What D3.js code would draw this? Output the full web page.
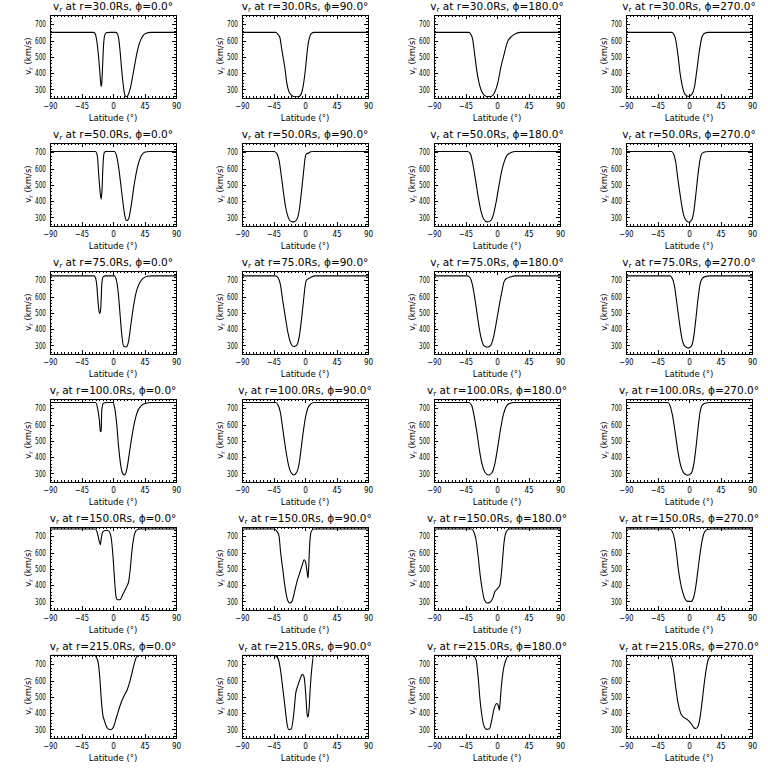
<!DOCTYPE html>
<html>
<head>
<meta charset="utf-8">
<script src="https://cdn.jsdelivr.net/npm/d3@7"></script>
<style>
  body { margin: 0; background: #fff; }
  svg { display: block; }
  text { font-family: "DejaVu Sans", sans-serif; fill: #000; }
  .axis line { stroke: #000; stroke-width: 1; shape-rendering: crispEdges; }
  .axis .domain { display: none; }
  .box { fill: none; stroke: #000; stroke-width: 1; shape-rendering: crispEdges; }
  .curve { fill: none; stroke: #000; stroke-width: 1.1; }
</style>
</head>
<body>
<div id="chart"></div>
<script>
// radial speed v_r (km/s) against latitude (deg), one array per panel
const radii = [30, 50, 75, 100, 150, 215];
const phis = [0, 90, 180, 270];
const latTicks = [-90, -45, 0, 45, 90];
const vTicks = [300, 400, 500, 600, 700];

const v30_0 = [[-90,650],[-28,650],[-26,645],[-24,620],[-22,560],[-20,470],[-18.5,390],[-17,318],[-16,340],[-15,430],[-13.5,570],[-12,630],[-10,648],[-5,650],[4,650],[6,643],[8,615],[10,540],[12,440],[14,350],[16,285],[18,258],[20,256],[22,270],[25,310],[28,378],[31,450],[34,520],[37,572],[40,607],[43,630],[47,645],[54,650],[90,650]];
const v30_90 = [[-90,650],[-42,650],[-39,640],[-36,620],[-33,541],[-29,439],[-26,340],[-23,286],[-19.5,265],[-15,255],[-9,255],[-5,276],[-2,337],[1,439],[3.3,541],[6.5,620],[9,642],[13,650],[90,650]];
const v30_180 = [[-90,650],[-40,650],[-37,635],[-35,612],[-32,520],[-29,418],[-25,327],[-20.5,276],[-15,256],[-8.5,256],[-4,276],[1,337],[5.7,439],[10.4,520],[15,592],[20,622],[27,643],[34,650],[90,650]];
const v30_270 = [[-90,650],[-25,650],[-22,640],[-19.8,620],[-16,520],[-12.7,398],[-9.3,316],[-5.5,269],[-0.7,256],[4,269],[7.9,316],[11.2,418],[15,541],[18.4,620],[21.8,643],[28,650],[90,650]];

const v50_0 = [[-90,705],[-25,705],[-23,690],[-22,665],[-20.5,568],[-18.6,466],[-17,412],[-15.7,466],[-14.3,620],[-12.5,698],[-10,705],[-5,705],[2,705],[4.3,690],[8,609],[11,507],[13.8,405],[16.7,314],[19.5,280],[22.4,292],[25.7,365],[30.5,507],[35,609],[40,675],[45,700],[52,705],[90,705]];
const v50_90 = [[-90,705],[-44,705],[-40,690],[-37,650],[-34,560],[-31,460],[-28,370],[-24,300],[-20,275],[-16,272],[-12,285],[-8,350],[-5,460],[-2,580],[0,660],[2,690],[5,695],[8,703],[12,705],[90,705]];
const v50_180 = [[-90,705],[-42,705],[-38,690],[-35,640],[-31,540],[-27,430],[-23,340],[-19,290],[-14,272],[-9,280],[-5,320],[-1,400],[3,500],[7,590],[11,650],[15,685],[20,698],[26,705],[90,705]];
const v50_270 = [[-90,705],[-25,705],[-22,690],[-19,640],[-16,540],[-12,420],[-8,320],[-4,280],[0,270],[4,285],[7,340],[10,450],[13,570],[16,660],[19,695],[24,703],[30,705],[90,705]];

const v75_0 = [[-90,727],[-27,727],[-25,715],[-23.3,675],[-21.4,570],[-20,510],[-19,495],[-17.6,520],[-16,675],[-14,722],[-11,727],[2,727],[4.3,710],[7.6,620],[10,495],[12.9,351],[15.2,294],[18.6,290],[22,320],[25.7,433],[29.5,546],[33.8,638],[37.6,680],[42.4,710],[49.5,725],[55,727],[90,727]];
const v75_90 = [[-90,727],[-42,727],[-38,712],[-35,670],[-32,580],[-28,470],[-24,370],[-20,310],[-16,292],[-12,300],[-8,360],[-5,460],[-2,580],[0,660],[2,700],[6,712],[10,722],[14,727],[90,727]];
const v75_180 = [[-90,727],[-42,727],[-38,712],[-35,670],[-31,570],[-27,450],[-23,350],[-19,300],[-14,288],[-9,300],[-5,350],[-1,440],[3,540],[7,630],[10,690],[14,712],[20,722],[26,727],[90,727]];
const v75_270 = [[-90,727],[-27,727],[-24,712],[-21,670],[-18,580],[-14,450],[-10,340],[-6,295],[-1,283],[4,300],[7,360],[10,470],[13,590],[16,680],[19,712],[24,724],[30,727],[90,727]];

const v100_0 = [[-90,735],[-25,735],[-22,700],[-19.5,628],[-18,556],[-17,560],[-16,690],[-13.8,731],[-10,735],[0,735],[2,710],[5.2,608],[8,464],[11,351],[13.8,300],[16.7,290],[20,331],[23.3,423],[27,526],[30.5,608],[35,680],[40,714],[47,731],[55,735],[90,735]];
const v100_90 = [[-90,735],[-42,735],[-38,715],[-35,670],[-32,580],[-28,460],[-24,360],[-20,305],[-16,290],[-12,305],[-8,370],[-5,470],[-2,570],[1,650],[4,700],[8,725],[13,735],[90,735]];
const v100_180 = [[-90,735],[-40,735],[-36,715],[-33,660],[-29,560],[-25,440],[-21,350],[-17,305],[-12,290],[-7,305],[-3,360],[1,460],[5,570],[9,660],[13,710],[18,730],[25,735],[90,735]];
const v100_270 = [[-90,735],[-30,735],[-27,715],[-24,665],[-20,560],[-16,440],[-12,350],[-7,300],[-2,288],[3,300],[7,360],[10,460],[13,580],[16,680],[19,720],[24,732],[30,735],[90,735]];

const v150_0 = [[-90,745],[-25,745],[-23,730],[-19.5,668],[-18,648],[-16.7,689],[-14.8,726],[-11,735],[-7.6,735],[-4.3,720],[-1.9,668],[0.5,546],[2.4,423],[4.3,331],[6.7,310],[10,310],[13.8,341],[18.6,382],[22.4,423],[24.8,505],[27,608],[29.5,689],[33,735],[37.6,745],[90,745]];
const v150_90 = [[-90,745],[-44,745],[-40,730],[-37,700],[-35,608],[-31.4,485],[-29,403],[-25.7,320],[-21.9,290],[-18.6,300],[-14.8,362],[-11.4,423],[-7.6,474],[-3.8,526],[-1.4,556],[0.5,546],[2.9,485],[4.3,444],[5.2,505],[6.7,648],[9,730],[12.4,745],[90,745]];
const v150_180 = [[-90,745],[-36,745],[-33,725],[-30,680],[-27,580],[-24,460],[-21,370],[-18,310],[-14,290],[-10,295],[-6,320],[-3,360],[0,375],[2,385],[4,400],[6,460],[8,560],[10,660],[13,725],[17,745],[90,745]];
const v150_270 = [[-90,745],[-27,745],[-24,730],[-21,690],[-18,600],[-15,490],[-11,390],[-7,330],[-2,300],[3,300],[7,330],[10,400],[13,500],[16,600],[19,680],[22,725],[26,742],[32,745],[90,745]];

const v215_0 = [[-90,755],[-26,755],[-24.3,746],[-21,706],[-18.6,603],[-17,500],[-14.8,397],[-12.4,355],[-10,324],[-6.7,302],[-2.9,298],[1,318],[4.3,365],[8,417],[11.9,468],[16.2,510],[20,540],[23.3,582],[27,644],[30.5,706],[33.8,746],[37.6,755],[90,755]];
const v215_90 = [[-90,755],[-44,755],[-38.6,736],[-35,664],[-31.4,540],[-28,417],[-25.7,335],[-22.9,298],[-19.5,304],[-16,397],[-13.3,520],[-10,572],[-6.7,613],[-3.8,638],[-1.4,623],[1,520],[2.9,397],[4.3,376],[5.7,418],[7.6,562],[10,686],[12.4,755],[90,755]];
const v215_180 = [[-90,755],[-35,755],[-29.9,727],[-27,624],[-24.2,479],[-21.3,376],[-18,314],[-14.7,300],[-10.9,304],[-7.6,355],[-4.7,418],[-2.4,449],[-0.5,459],[1,453],[2.4,438],[3.3,418],[4.3,459],[6.2,562],[9,665],[12.8,727],[17.5,755],[90,755]];
const v215_270 = [[-90,755],[-28,755],[-25,730],[-22,660],[-19,560],[-16,470],[-12,400],[-8,375],[-4,365],[0,350],[4,330],[7,310],[10,305],[13,320],[16,380],[19,480],[22,590],[25,680],[28,735],[32,755],[90,755]];

const curves = [
  [v30_0, v30_90, v30_180, v30_270],
  [v50_0, v50_90, v50_180, v50_270],
  [v75_0, v75_90, v75_180, v75_270],
  [v100_0, v100_90, v100_180, v100_270],
  [v150_0, v150_90, v150_180, v150_270],
  [v215_0, v215_90, v215_180, v215_270]
];

let w = 768;
let h = 768;
let cellW = 192;
let cellH = 128;
let box = {left: 50, right: 176, top: 14.5, bottom: 97.5};

const xScale = d3.scaleLinear()
                 .domain([-90, 90])
                 .range([box.left, box.right]);

const yScale = d3.scaleLinear()
                 .domain([250, 760])
                 .range([box.bottom, box.top]);

const line = d3.line()
               .x(d => xScale(d[0]))
               .y(d => yScale(d[1]))
               .curve(d3.curveMonotoneX);

const svg = d3.select("#chart")
              .append("svg")
              .attr("width", w)
              .attr("height", h);

svg.append("rect")
   .attr("width", w)
   .attr("height", h)
   .attr("fill", "#fff");

svg.append("defs")
   .append("clipPath")
   .attr("id", "plotclip")
   .append("rect")
   .attr("x", box.left)
   .attr("y", box.top)
   .attr("width", box.right - box.left)
   .attr("height", box.bottom - box.top);

const latMinor = d3.range(-90, 91, 5);
const vMinor = d3.range(260, 760, 20);

radii.forEach((r, row) => {
  phis.forEach((phi, col) => {
    const g = svg.append("g")
                 .attr("transform", `translate(${col * cellW}, ${row * cellH})`);

    // inward ticks on all four sides
    [[d3.axisTop, box.bottom, latMinor, 2], [d3.axisTop, box.bottom, latTicks, 4],
     [d3.axisBottom, box.top, latMinor, 2], [d3.axisBottom, box.top, latTicks, 4]].forEach(a => {
      g.append("g")
       .attr("class", "axis")
       .attr("transform", `translate(0, ${a[1]})`)
       .call(a[0](xScale).tickValues(a[2]).tickSize(a[3]).tickFormat(""));
    });
    [[d3.axisRight, box.left, vMinor, 2], [d3.axisRight, box.left, vTicks, 4],
     [d3.axisLeft, box.right, vMinor, 2], [d3.axisLeft, box.right, vTicks, 4]].forEach(a => {
      g.append("g")
       .attr("class", "axis")
       .attr("transform", `translate(${a[1]}, 0)`)
       .call(a[0](yScale).tickValues(a[2]).tickSize(a[3]).tickFormat(""));
    });

    // tick labels
    g.append("g")
     .attr("class", "axis")
     .attr("transform", `translate(0, ${box.bottom})`)
     .call(d3.axisBottom(xScale).tickValues(latTicks).tickSize(0).tickPadding(5))
     .selectAll("text")
     .style("font-size", "8.5px")
     .attr("textLength", d => d < 0 ? 14 : String(d).length * 4.6)
     .attr("lengthAdjust", "spacingAndGlyphs");
    g.append("g")
     .attr("class", "axis")
     .attr("transform", `translate(${box.left}, 0)`)
     .call(d3.axisLeft(yScale).tickValues(vTicks).tickSize(0).tickPadding(4))
     .selectAll("text")
     .style("font-size", "8.5px")
     .attr("textLength", 11)
     .attr("lengthAdjust", "spacingAndGlyphs");

    g.append("rect")
     .attr("class", "box")
     .attr("x", box.left + 0.5)
     .attr("y", box.top + 0.5)
     .attr("width", box.right - box.left)
     .attr("height", box.bottom - box.top);

    g.append("path")
     .datum(curves[row][col])
     .attr("class", "curve")
     .attr("clip-path", "url(#plotclip)")
     .attr("d", line);

    const title = g.append("text")
                   .attr("x", (box.left + box.right) / 2)
                   .attr("y", 10)
                   .attr("text-anchor", "middle")
                   .style("font-size", "10.5px");
    title.append("tspan").text("v");
    title.append("tspan").attr("dy", 2).style("font-size", "7px").text("r");
    title.append("tspan").attr("dy", -2).text(` at r=${r.toFixed(1)}Rs, \u03d5=${phi.toFixed(1)}\u00b0`);

    const ylab = g.append("text")
                  .attr("transform", `translate(31, ${(box.top + box.bottom) / 2}) rotate(-90)`)
                  .attr("text-anchor", "middle")
                  .style("font-size", "8.5px");
    ylab.append("tspan").text("v");
    ylab.append("tspan").attr("dy", 2).style("font-size", "6px").text("r");
    ylab.append("tspan").attr("dy", -2).text(" (km/s)");

    g.append("text")
     .attr("x", (box.left + box.right) / 2)
     .attr("y", 121)
     .attr("text-anchor", "middle")
     .style("font-size", "8.5px")
     .text("Latitude (\u00b0)");
  });
});
</script>
</body>
</html>
